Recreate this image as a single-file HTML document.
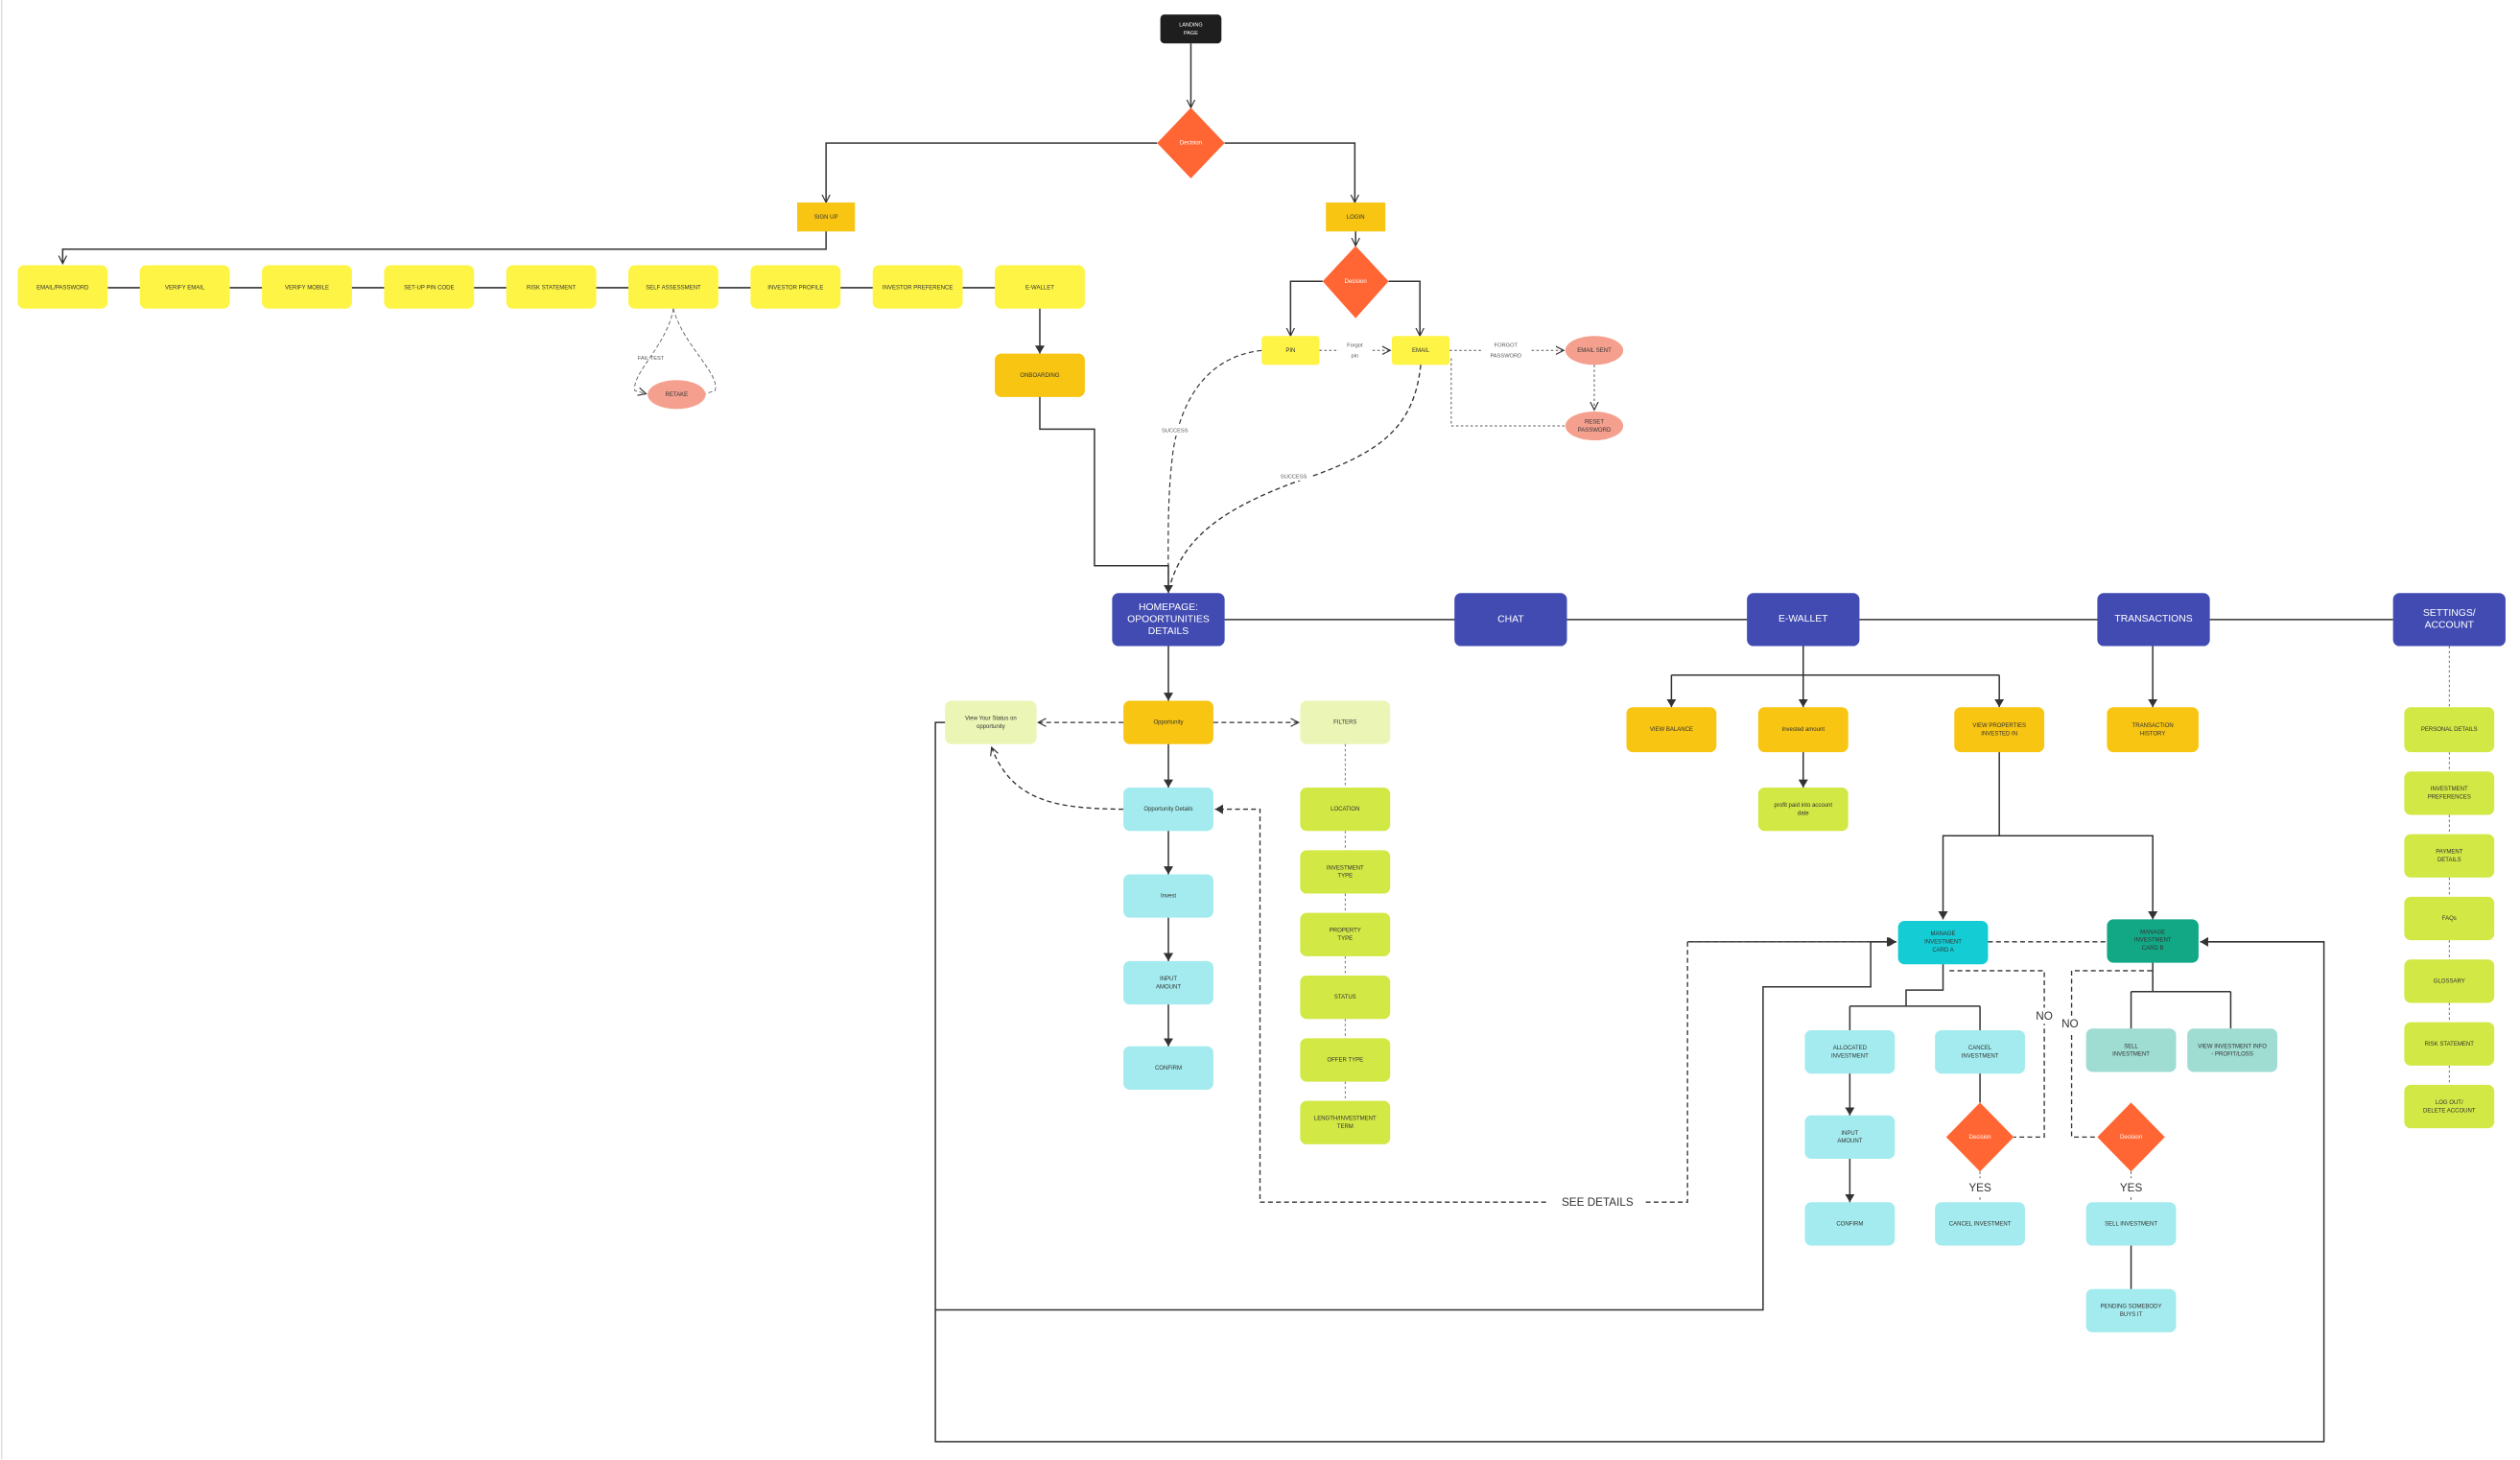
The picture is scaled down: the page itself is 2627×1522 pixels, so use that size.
<!DOCTYPE html>
<html><head><meta charset="utf-8"><style>
html,body{margin:0;padding:0;background:#fff;}
svg{display:block;}
text{font-family:"Liberation Sans",sans-serif;text-anchor:middle;dominant-baseline:middle;}
.t{font-size:3.6px;fill:#333;}
.n{font-size:6.2px;fill:#fff;}
.l{font-size:3.4px;fill:#555;}
.s{stroke:#333;stroke-width:0.9;fill:none;}
.d{stroke:#333;stroke-width:0.8;fill:none;stroke-dasharray:3 2;}
.dt{stroke:#555;stroke-width:0.5;fill:none;stroke-dasharray:1.5 1.5;}
</style></head><body>
<svg width="2627" height="1522" viewBox="0 0 1568 908.4" xmlns="http://www.w3.org/2000/svg">
<defs>
<marker id="a" markerWidth="6" markerHeight="6" refX="5" refY="3" orient="auto" markerUnits="userSpaceOnUse"><path d="M0,0 L5,3 L0,6 z" fill="#333"/></marker>
<marker id="o" markerWidth="6" markerHeight="6" refX="5" refY="3" orient="auto" markerUnits="userSpaceOnUse"><path d="M0,0.5 L5,3 L0,5.5" fill="none" stroke="#333" stroke-width="0.7"/></marker>
</defs>
<line x1="1" y1="0" x2="1" y2="908" stroke="#ddd" stroke-width="0.8"/>

<!-- top -->
<rect x="722" y="9" width="38" height="18" rx="2.5" fill="#1e1e1e"/>
<text x="741" y="15.5" class="t" style="fill:#fff;font-size:3.3px">LANDING</text><text x="741" y="20.5" class="t" style="fill:#fff;font-size:3.3px">PAGE</text>
<path class="s" d="M741,27 V67" marker-end="url(#o)"/>
<polygon points="741,67 762,89 741,111 720,89" fill="#ff6633"/>
<text x="741" y="89" class="t" style="fill:#fff">Decision</text>
<path class="s" d="M720,89 H514 V126" marker-end="url(#o)"/>
<path class="s" d="M762,89 H843 V126" marker-end="url(#o)"/>
<rect x="496" y="126" width="36" height="18" fill="#f8c513"/><text x="514" y="135" class="t">SIGN UP</text>
<rect x="825" y="126" width="37" height="18" fill="#f8c513"/><text x="843.5" y="135" class="t">LOGIN</text>
<path class="s" d="M514,144 V155 H39 V164" marker-end="url(#o)"/>

<!-- signup row -->
<path class="s" d="M67,179 H619"/>
<g fill="#fef445">
<rect x="11" y="165" width="56" height="27" rx="4"/><rect x="87" y="165" width="56" height="27" rx="4"/><rect x="163" y="165" width="56" height="27" rx="4"/><rect x="239" y="165" width="56" height="27" rx="4"/><rect x="315" y="165" width="56" height="27" rx="4"/><rect x="391" y="165" width="56" height="27" rx="4"/><rect x="467" y="165" width="56" height="27" rx="4"/><rect x="543" y="165" width="56" height="27" rx="4"/><rect x="619" y="165" width="56" height="27" rx="4"/>
</g>
<text x="39" y="179" class="t">EMAIL/PASSWORD</text><text x="115" y="179" class="t">VERIFY EMAIL</text><text x="191" y="179" class="t">VERIFY MOBILE</text><text x="267" y="179" class="t">SET-UP PIN CODE</text><text x="343" y="179" class="t">RISK STATEMENT</text><text x="419" y="179" class="t">SELF ASSESSMENT</text><text x="495" y="179" class="t">INVESTOR PROFILE</text><text x="571" y="179" class="t">INVESTOR PREFERENCE</text><text x="647" y="179" class="t">E-WALLET</text>
<path class="dt" style="stroke-dasharray:2.5 1.5" d="M419,192 C415,215 393,232 395,243 L402,245" marker-end="url(#o)"/>
<path class="dt" style="stroke-dasharray:2.5 1.5" d="M419,192 C425,215 448,232 445,243 L439,245"/>
<ellipse cx="421" cy="245.5" rx="18" ry="9" fill="#f5a08f"/><text x="421" y="245.5" class="t">RETAKE</text>
<text x="405" y="223" class="l">FAIL TEST</text>
<path class="s" d="M647,192 V220" marker-end="url(#a)"/>
<rect x="619" y="220" width="56" height="27" rx="4" fill="#f8c513"/><text x="647" y="233.5" class="t">ONBOARDING</text>
<path class="s" d="M647,247 V267 H681 V352 H727 V369" marker-end="url(#a)"/>

<!-- login -->
<path class="s" d="M843.5,144 V153" marker-end="url(#o)"/>
<polygon points="843.5,153 864,175 843.5,198 823,175" fill="#ff6633"/><text x="843.5" y="175" class="t" style="fill:#fff">Decision</text>
<path class="s" d="M823,175 H803 V209" marker-end="url(#o)"/>
<path class="s" d="M864,175 H883.5 V209" marker-end="url(#o)"/>
<rect x="785" y="209" width="36" height="18" rx="2" fill="#fef445"/><text x="803" y="218" class="t">PIN</text>
<rect x="866" y="209" width="36" height="18" rx="2" fill="#fef445"/><text x="884" y="218" class="t">EMAIL</text>
<path class="dt" style="stroke-width:0.6" d="M821,218 H865" marker-end="url(#o)"/>
<rect x="833" y="211" width="20" height="14" fill="#fff"/>
<text x="843" y="215" class="l">Forgot</text><text x="843" y="221.5" class="l">pin</text>
<path class="dt" style="stroke-width:0.6" d="M902,218 H973" marker-end="url(#o)"/>
<rect x="922" y="211" width="30" height="14" fill="#fff"/>
<text x="937" y="215" class="l">FORGOT</text><text x="937" y="221.5" class="l">PASSWORD</text>
<ellipse cx="992" cy="218" rx="18" ry="9" fill="#f5a08f"/><text x="992" y="218" class="t">EMAIL SENT</text>
<path class="dt" style="stroke-width:0.6" d="M992,227 V255" marker-end="url(#o)"/>
<path class="dt" style="stroke-width:0.6" d="M903,223 V265 H974"/>
<ellipse cx="992" cy="265" rx="18" ry="9" fill="#f5a08f"/><text x="992" y="262.5" class="t">RESET</text><text x="992" y="267.5" class="t">PASSWORD</text>
<path class="d" style="stroke-width:0.7" d="M785,218 C750,222 735,250 730,280 C726,310 727,340 727,368"/>
<path class="d" style="stroke-width:0.8" d="M884,227 C880,265 860,280 820,295 C760,315 735,335 727,368"/>
<rect x="720" y="265" width="22" height="6" fill="#fff"/><text x="731" y="268" class="l">SUCCESS</text>
<rect x="794" y="293" width="22" height="6" fill="#fff"/><text x="805" y="296.5" class="l">SUCCESS</text>

<!-- nav -->
<path class="s" d="M762,385.5 H1489"/>
<g fill="#414bb2">
<rect x="692" y="369" width="70" height="33" rx="4"/><rect x="905" y="369" width="70" height="33" rx="4"/><rect x="1087" y="369" width="70" height="33" rx="4"/><rect x="1305" y="369" width="70" height="33" rx="4"/><rect x="1489" y="369" width="70" height="33" rx="4"/>
</g>
<text x="727" y="378" class="n">HOMEPAGE:</text><text x="727" y="385.5" class="n">OPOORTUNITIES</text><text x="727" y="393" class="n">DETAILS</text>
<text x="940" y="385.5" class="n">CHAT</text><text x="1122" y="385" class="n">E-WALLET</text><text x="1340" y="385" class="n">TRANSACTIONS</text>
<text x="1524" y="381.5" class="n">SETTINGS/</text><text x="1524" y="389" class="n">ACCOUNT</text>

<!-- homepage subtree -->
<path class="s" d="M727,402 V436" marker-end="url(#a)"/>
<rect x="699" y="436" width="56" height="27" rx="4" fill="#f8c513"/><text x="727" y="449.5" class="t">Opportunity</text>
<rect x="588" y="436" width="57" height="27" rx="4" fill="#ebf6b6"/><text x="616.5" y="447" class="t">View Your Status on</text><text x="616.5" y="452" class="t">opportunity</text>
<rect x="809" y="436" width="56" height="27" rx="4" fill="#ebf6b6"/><text x="837" y="449.5" class="t">FILTERS</text>
<path class="d" d="M699,449.5 H646" marker-end="url(#o)"/>
<path class="d" d="M755,449.5 H808" marker-end="url(#o)"/>
<path class="s" d="M727,463 V490" marker-end="url(#a)"/>
<g fill="#a3ebee">
<rect x="699" y="490" width="56" height="27" rx="4"/><rect x="699" y="544" width="56" height="27" rx="4"/><rect x="699" y="598" width="56" height="27" rx="4"/><rect x="699" y="651" width="56" height="27" rx="4"/>
</g>
<text x="727" y="503.5" class="t">Opportunity Details</text><text x="727" y="557.5" class="t">Invest</text>
<text x="727" y="609" class="t">INPUT</text><text x="727" y="614" class="t">AMOUNT</text><text x="727" y="664.5" class="t">CONFIRM</text>
<path class="s" d="M727,517 V544" marker-end="url(#a)"/><path class="s" d="M727,571 V598" marker-end="url(#a)"/><path class="s" d="M727,625 V651" marker-end="url(#a)"/>
<path class="d" d="M699,503.5 C660,503 630,500 617,465" marker-end="url(#o)"/>
<path class="dt" d="M837,463 V685"/>
<g fill="#d2e844">
<rect x="809" y="490" width="56" height="27" rx="4"/><rect x="809" y="529" width="56" height="27" rx="4"/><rect x="809" y="568" width="56" height="27" rx="4"/><rect x="809" y="607" width="56" height="27" rx="4"/><rect x="809" y="646" width="56" height="27" rx="4"/><rect x="809" y="685" width="56" height="27" rx="4"/>
</g>
<text x="837" y="503.5" class="t">LOCATION</text><text x="837" y="540" class="t">INVESTMENT</text><text x="837" y="545" class="t">TYPE</text>
<text x="837" y="579" class="t">PROPERTY</text><text x="837" y="584" class="t">TYPE</text><text x="837" y="620.5" class="t">STATUS</text><text x="837" y="659.5" class="t">OFFER TYPE</text>
<text x="837" y="696" class="t">LENGTH/INVESTMENT</text><text x="837" y="701" class="t">TERM</text>
<path class="d" d="M1180,586 H1050 V748 H784 V503.5 H756" marker-end="url(#a)"/>
<rect x="964" y="743" width="60" height="10" fill="#fff"/><text x="994" y="748.5" style="font-size:7px;fill:#333">SEE DETAILS</text>
<path class="d" d="M1050,586 H1179" marker-end="url(#a)"/>

<!-- big loops -->
<path class="s" d="M588,449.5 H582 V897 H1446 V586 H1369" marker-end="url(#a)"/>
<path class="s" d="M582,815 H1097 V614 H1164 V586 H1180" marker-end="url(#a)"/>

<!-- e-wallet subtree -->
<path class="s" d="M1122,402 V420 M1040,420 H1244"/>
<path class="s" d="M1040,420 V440" marker-end="url(#a)"/><path class="s" d="M1122,420 V440" marker-end="url(#a)"/><path class="s" d="M1244,420 V440" marker-end="url(#a)"/>
<g fill="#f8c513">
<rect x="1012" y="440" width="56" height="28" rx="4"/><rect x="1094" y="440" width="56" height="28" rx="4"/><rect x="1216" y="440" width="56" height="28" rx="4"/><rect x="1311" y="440" width="57" height="28" rx="4"/>
</g>
<text x="1040" y="454" class="t">VIEW BALANCE</text><text x="1122" y="454" class="t">Invested amount</text>
<text x="1244" y="451.5" class="t">VIEW PROPERTIES</text><text x="1244" y="456.5" class="t">INVESTED IN</text>
<text x="1339.5" y="451.5" class="t">TRANSACTION</text><text x="1339.5" y="456.5" class="t">HISTORY</text>
<path class="s" d="M1339.5,402 V440" marker-end="url(#a)"/>
<path class="s" d="M1122,468 V490" marker-end="url(#a)"/>
<rect x="1094" y="490" width="56" height="27" rx="4" fill="#d2e844"/><text x="1122" y="501" class="t">profit paid into account</text><text x="1122" y="506" class="t">date</text>
<path class="s" d="M1244,468 V520 H1209 V572" marker-end="url(#a)"/>
<path class="s" d="M1244,520 H1339.5 V572" marker-end="url(#a)"/>
<path class="d" d="M1237,586 H1311"/>
<rect x="1181" y="573" width="56" height="27" rx="4" fill="#14cdd4"/>
<text x="1209" y="581" class="t">MANAGE</text><text x="1209" y="586" class="t">INVESTMENT</text><text x="1209" y="591" class="t">CARD A</text>
<rect x="1311" y="572" width="57" height="27" rx="4" fill="#12a886"/>
<text x="1339.5" y="580" class="t">MANAGE</text><text x="1339.5" y="585" class="t">INVESTMENT</text><text x="1339.5" y="590" class="t">CARD B</text>

<path class="s" d="M1209,600 V616 H1186 V626 M1151,626 H1232 M1151,626 V641 M1232,626 V641"/>
<g fill="#a3ebee">
<rect x="1123" y="641" width="56" height="27" rx="4"/><rect x="1204" y="641" width="56" height="27" rx="4"/><rect x="1123" y="694" width="56" height="27" rx="4"/><rect x="1123" y="748" width="56" height="27" rx="4"/><rect x="1204" y="748" width="56" height="27" rx="4"/><rect x="1298" y="748" width="56" height="27" rx="4"/><rect x="1298" y="802" width="56" height="27" rx="4"/>
</g>
<text x="1151" y="652" class="t">ALLOCATED</text><text x="1151" y="657" class="t">INVESTMENT</text>
<text x="1232" y="652" class="t">CANCEL</text><text x="1232" y="657" class="t">INVESTMENT</text>
<text x="1151" y="705" class="t">INPUT</text><text x="1151" y="710" class="t">AMOUNT</text>
<text x="1151" y="761.5" class="t">CONFIRM</text><text x="1232" y="761.5" class="t">CANCEL INVESTMENT</text>
<text x="1326" y="761.5" class="t">SELL INVESTMENT</text>
<text x="1326" y="813" class="t">PENDING SOMEBODY</text><text x="1326" y="818" class="t">BUYS IT</text>
<path class="s" d="M1151,668 V694" marker-end="url(#a)"/><path class="s" d="M1151,721 V748" marker-end="url(#a)"/>
<path class="s" d="M1232,668 V686"/>
<polygon points="1232,686 1253,707.5 1232,729 1211,707.5" fill="#ff6633"/><text x="1232" y="707.5" class="t" style="fill:#fff">Decision</text>
<path class="dt" style="stroke-width:0.6" d="M1232,729 V733 M1232,745 V748"/>
<text x="1232" y="739.5" style="font-size:7px;fill:#333">YES</text>
<path class="d" d="M1213,604 H1272 V707.5 H1253"/>
<rect x="1264" y="627" width="16" height="10" fill="#fff"/><text x="1272" y="632.5" style="font-size:7px;fill:#333">NO</text>

<path class="s" d="M1339.5,599 V617 M1326,617 H1388 M1326,617 V640 M1388,617 V640"/>
<g fill="#9fdcd2">
<rect x="1298" y="640" width="56" height="27" rx="4"/><rect x="1361" y="640" width="56" height="27" rx="4"/>
</g>
<text x="1326" y="651" class="t">SELL</text><text x="1326" y="656" class="t">INVESTMENT</text>
<text x="1389" y="651" class="t">VIEW INVESTMENT INFO</text><text x="1389" y="656" class="t">- PROFIT/LOSS</text>
<path class="d" d="M1339,604 H1289 V707.5 H1305"/>
<rect x="1280" y="632" width="16" height="10" fill="#fff"/><text x="1288" y="637.5" style="font-size:7px;fill:#333">NO</text>
<polygon points="1326,686 1347,707.5 1326,729 1305,707.5" fill="#ff6633"/><text x="1326" y="707.5" class="t" style="fill:#fff">Decision</text>
<path class="dt" style="stroke-width:0.6" d="M1326,729 V733 M1326,745 V748"/>
<text x="1326" y="739.5" style="font-size:7px;fill:#333">YES</text>
<path class="s" d="M1326,775 V802"/>

<!-- settings -->
<path class="dt" d="M1524,402 V675"/>
<g fill="#d2e844">
<rect x="1496" y="440" width="56" height="28" rx="4"/><rect x="1496" y="480" width="56" height="27" rx="4"/><rect x="1496" y="519" width="56" height="27" rx="4"/><rect x="1496" y="558" width="56" height="27" rx="4"/><rect x="1496" y="597" width="56" height="27" rx="4"/><rect x="1496" y="636" width="56" height="27" rx="4"/><rect x="1496" y="675" width="56" height="27" rx="4"/>
</g>
<text x="1524" y="454" class="t">PERSONAL DETAILS</text>
<text x="1524" y="491" class="t">INVESTMENT</text><text x="1524" y="496" class="t">PREFERENCES</text>
<text x="1524" y="530" class="t">PAYMENT</text><text x="1524" y="535" class="t">DETAILS</text>
<text x="1524" y="571.5" class="t">FAQs</text><text x="1524" y="610.5" class="t">GLOSSARY</text><text x="1524" y="649.5" class="t">RISK STATEMENT</text>
<text x="1524" y="686" class="t">LOG OUT/</text><text x="1524" y="691" class="t">DELETE ACCOUNT</text>
</svg>
</body></html>
